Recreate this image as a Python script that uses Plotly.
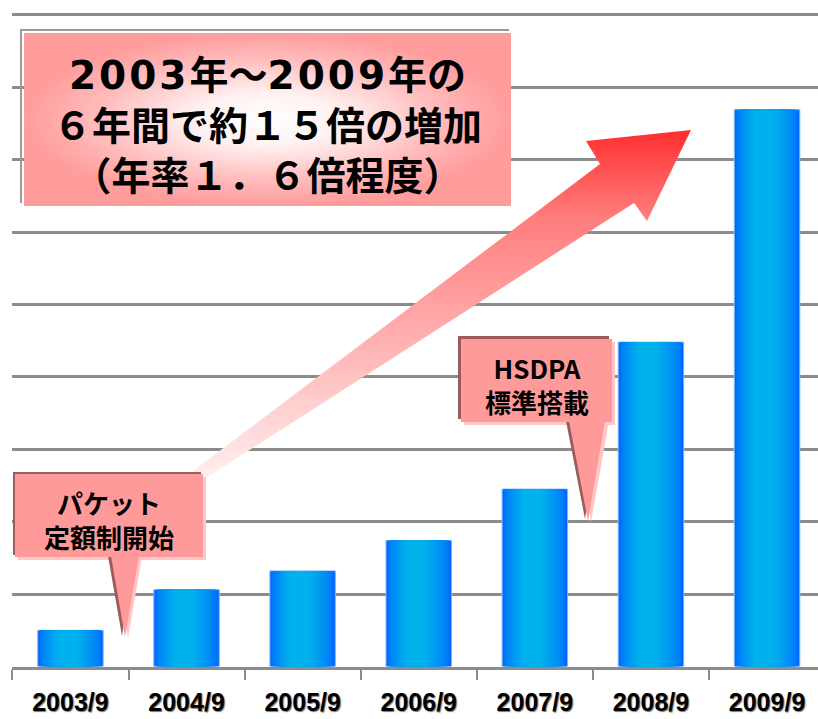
import plotly.graph_objects as go

# ---------------- data ----------------
categories = ["2003/9", "2004/9", "2005/9", "2006/9", "2007/9", "2008/9", "2009/9"]
values = [0.50, 1.06, 1.32, 1.74, 2.45, 4.48, 7.69]

title_lines = ["2003年～2009年の", "６年間で約１５倍の増加", "（年率１．６倍程度）"]
callout1_lines = ["パケット", "定額制開始"]
callout2_lines = ["HSDPA", "標準搭載"]

W, H = 818, 719
CJK = "Noto Sans CJK JP"

fig = go.Figure()

# ---------------- bars (nested layers give a horizontal gradient) ----------------
N = 16
BW = 0.564
blue = (0, 100, 255)
cyan = (0, 178, 236)
for k in range(N):
    t = k / (N - 1)
    w = BW * (1 - 0.74 * t)
    c = -0.026 * t
    tt = t ** 0.6
    col = "rgb(%d,%d,%d)" % tuple(round(blue[i] + (cyan[i] - blue[i]) * tt) for i in range(3))
    fig.add_trace(go.Bar(
        x=categories, y=values, width=w, offset=c - w / 2,
        marker=dict(color=col, line=dict(width=1 if k == 0 else 0, color="#7fb8ff")),
        hoverinfo="skip", showlegend=False, xaxis="x", yaxis="y"))

# ---------------- decorations in an overlay pixel-space subplot ----------------
def ov(**kw):
    kw.update(dict(xaxis="x2", yaxis="y2", hoverinfo="skip", showlegend=False))
    return go.Scatter(**kw)

# title box grey outline
fig.add_trace(ov(x=[509, 21, 21], y=[30, 30, 203], mode="lines",
                 line=dict(color="#9a9a9a", width=2)))
# title box with radial gradient
fig.add_trace(ov(x=[24, 511, 511, 24, 24], y=[33, 33, 206, 206, 33], mode="lines",
                 line=dict(width=0), fill="toself",
                 fillgradient=dict(type="radial",
                                   colorscale=[[0, "#ffffff"], [0.3, "#fff2f2"],
                                               [0.7, "#ffbcbc"], [1, "#ff9c9c"]])))
# big arrow
fig.add_trace(ov(x=[193, 600, 586, 691, 647, 634, 206, 193],
                 y=[471, 164, 141, 130, 221, 203, 478, 471], mode="lines",
                 line=dict(width=0), fill="toself",
                 fillgradient=dict(type="vertical", start=130, stop=478,
                                   colorscale=[[0, "#ff2e2e"], [0.25, "#ff7d7d"],
                                               [0.6, "#ffb0b0"], [1, "#fff0f0"]])))

shapes = []
def rect(x0, y0, x1, y1, color):
    shapes.append(dict(type="rect", xref="x2", yref="y2", x0=x0, y0=y0, x1=x1, y1=y1,
                       fillcolor=color, line=dict(width=0), layer="above"))
def tri(p, color):
    path = "M%s,%s L%s,%s L%s,%s Z" % (p[0][0], p[0][1], p[1][0], p[1][1], p[2][0], p[2][1])
    shapes.append(dict(type="path", xref="x2", yref="y2", path=path,
                       fillcolor=color, line=dict(width=0), layer="above"))

DARK, LIGHT, PINK = "#9c5c5c", "#ffc6c6", "#ff9a9a"
# callout 1
rect(13, 472, 201, 555, DARK)
rect(18, 477, 206, 560, LIGHT)
tri([(108, 556), (122, 636), (134, 556)], DARK)
tri([(116, 556), (128, 638), (142, 556)], LIGHT)
tri([(111, 556), (125, 637), (139, 556)], PINK)
rect(15, 474, 203, 557, PINK)
# callout 2
rect(458, 336, 609, 419, DARK)
rect(464, 342, 615, 425, LIGHT)
tri([(566, 421), (585, 519), (600, 421)], DARK)
tri([(574, 421), (591, 522), (609, 421)], LIGHT)
tri([(569, 421), (588, 521), (605, 421)], PINK)
rect(461, 339, 612, 422, PINK)

def ann(text, x, y, size):
    return dict(text=text, x=x / W, y=1 - y / H, xref="paper", yref="paper",
                xanchor="center", yanchor="middle", showarrow=False, align="center",
                font=dict(family=CJK, size=size, color="black", weight="bold"))

sp = "<span style='font-family:DejaVu Sans;letter-spacing:3px'>%s</span>"
line1 = sp % "2003" + "年～" + sp % "2009" + "年の"
annotations = [
    ann("<br>".join([line1, title_lines[1], title_lines[2]]), 267, 122, 39),
    ann("<br>".join(callout1_lines), 109, 519, 26),
    ann("<br>".join(callout2_lines), 537, 384, 26),
]

# ---------------- layout ----------------
span = (W - 12.4) / 116.1
fig.update_layout(
    width=W, height=H,
    margin=dict(l=0, r=0, t=0, b=0),
    paper_bgcolor="white", plot_bgcolor="rgba(0,0,0,0)",
    barmode="overlay", showlegend=False,
    shapes=shapes, annotations=annotations,
    xaxis=dict(domain=[12.4 / W, 1], range=[-0.5, -0.5 + span], type="category",
               showgrid=False, showline=True, linecolor="#8c8c8c", linewidth=3,
               ticks="outside", tickson="boundaries", ticklen=10, tickwidth=2,
               tickcolor="#8c8c8c", ticklabelstandoff=11,
               tickfont=dict(family="Liberation Sans", size=25, color="black",
                             weight="bold", shadow="1px 1px 1px #777"),
               fixedrange=True, automargin=False),
    yaxis=dict(domain=[(H - 666.5) / H, 1], range=[0, 666.5 / 72.4], dtick=1,
               showgrid=True, gridcolor="#8c8c8c", gridwidth=3, showticklabels=False,
               zeroline=False, showline=False, ticks="", fixedrange=True, automargin=False),
    xaxis2=dict(domain=[0, 1], range=[0, W], anchor="y2", visible=False, fixedrange=True),
    yaxis2=dict(domain=[0, 1], range=[H, 0], anchor="x2", visible=False, fixedrange=True),
)

fig.write_html("out.html", config={"displayModeBar": False},
               post_script="document.body.style.margin='0';document.body.style.overflow='hidden';")
